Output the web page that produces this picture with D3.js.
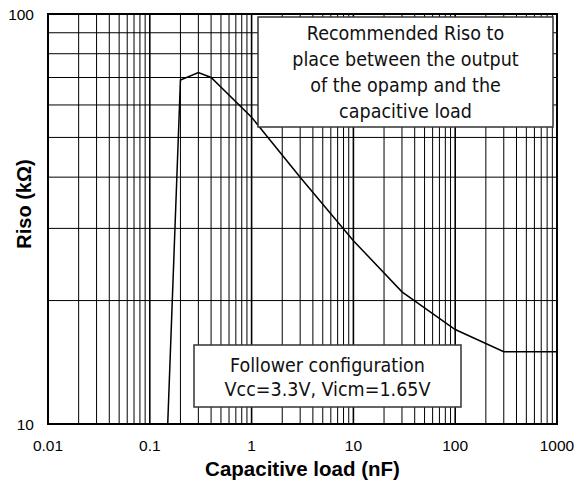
<!DOCTYPE html>
<html><head><meta charset="utf-8">
<script src="https://cdn.jsdelivr.net/npm/d3@7"></script>
<style>body{margin:0;background:#fff}svg{display:block}</style>
</head><body>
<svg id="c" width="578" height="491"></svg>
<script>
const capNF = [0.15, 0.2, 0.3, 0.4, 1, 3, 10, 30, 100, 300, 1000];
const risoK = [10, 69, 72, 70, 56, 40, 28, 21, 17, 15, 15];
const xTickLabels = ["0.01", "0.1", "1", "10", "100", "1000"];
const yTickLabels = ["10", "100"];
const noteTop = ["Recommended Riso to", "place between the output", "of the opamp and the", "capacitive load"];
const noteBottom = ["Follower configuration", "Vcc=3.3V, Vicm=1.65V"];

const svg = d3.select("#c");
const L = 48, R = 557, T = 14, B = 424;
const x = d3.scaleLog().domain([0.01, 1000]).range([L, R]);
const y = d3.scaleLog().domain([10, 100]).range([B, T]);

// grid
const xMinor = [];
for (let e = -2; e < 3; e++) for (let m = 1; m <= 9; m++) xMinor.push(m * Math.pow(10, e));
xMinor.push(1000);
const yMinor = [];
for (let m = 1; m <= 10; m++) yMinor.push(m * 10);

const g = svg.append("g");
g.selectAll("line.vx").data(xMinor).join("line")
  .attr("x1", d => x(d)).attr("x2", d => x(d)).attr("y1", T).attr("y2", B)
  .attr("stroke", "#000")
  .attr("stroke-width", d => Math.abs(Math.log10(d) - Math.round(Math.log10(d))) < 1e-9 ? 1.6 : 1);
g.selectAll("line.hy").data(yMinor).join("line")
  .attr("y1", d => y(d)).attr("y2", d => y(d)).attr("x1", L).attr("x2", R)
  .attr("stroke", "#000").attr("stroke-width", 1);

// frame
svg.append("rect").attr("x", L).attr("y", T).attr("width", R - L).attr("height", B - T)
  .attr("fill", "none").attr("stroke", "#000").attr("stroke-width", 2);

// curve
svg.append("path").datum(capNF.map((c, i) => [c, risoK[i]]))
  .attr("d", d3.line().x(d => x(d[0])).y(d => y(d[1])))
  .attr("fill", "none").attr("stroke", "#000").attr("stroke-width", 1.5);

// axes labels
const xTicks = xTickLabels.map(Number);
svg.selectAll("text.xt").data(xTicks).join("text")
  .attr("x", d => x(d)).attr("y", 450.5).attr("text-anchor", "middle")
  .attr("font-family", "Liberation Sans, Arial, sans-serif").attr("font-size", 15.5)
  .text((d, i) => xTickLabels[i]);
const yTicks = yTickLabels.map(Number);
svg.selectAll("text.yt").data(yTicks).join("text")
  .attr("x", 34).attr("y", d => y(d) + 5.5).attr("text-anchor", "end")
  .attr("font-family", "Liberation Sans, Arial, sans-serif").attr("font-size", 15.5)
  .text((d, i) => yTickLabels[i]);

svg.append("text").attr("x", (L + R) / 2).attr("y", 476).attr("text-anchor", "middle")
  .attr("font-family", "Liberation Sans, Arial, sans-serif").attr("font-size", 20.5).attr("font-weight", "bold")
  .text("Capacitive load (nF)");
svg.append("text").attr("transform", "translate(31,204) rotate(-90)").attr("text-anchor", "middle")
  .attr("font-family", "Liberation Sans, Arial, sans-serif").attr("font-size", 20).attr("font-weight", "bold")
  .text("Riso (kΩ)");

// annotation boxes
function note(x0, y0, w, h, lines, cx, base0, step) {
  svg.append("rect").attr("x", x0).attr("y", y0).attr("width", w).attr("height", h)
    .attr("fill", "#fff").attr("stroke", "#333").attr("stroke-width", 1.5);
  svg.selectAll(null).data(lines).join("text")
    .attr("x", cx).attr("y", (d, i) => base0 + i * step).attr("text-anchor", "middle")
    .attr("font-family", "DejaVu Sans Condensed, DejaVu Sans, sans-serif").attr("font-size", 19.5)
    .attr("fill", "#111").text(d => d);
}
note(258, 17, 295, 110, noteTop, 405.5, 40, 26);
note(194, 345, 267, 62, noteBottom, 327.5, 372, 23.5);
</script>
</body></html>
